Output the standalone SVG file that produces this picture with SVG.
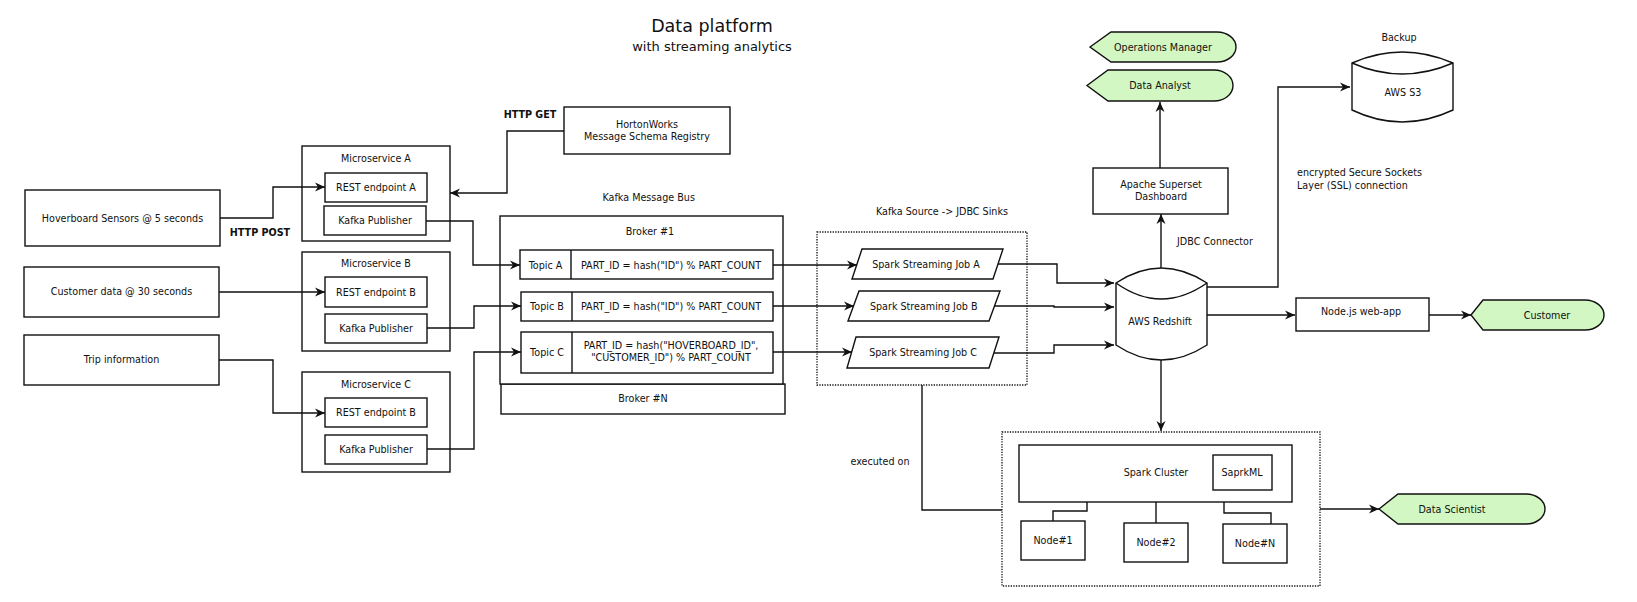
<svg xmlns="http://www.w3.org/2000/svg" width="1637" height="602" viewBox="0 0 1637 602">
<style>
text{font-family:"DejaVu Sans","Liberation Sans",sans-serif;font-size:9.6px;fill:#111;text-anchor:middle}
.l{text-anchor:start}
.b{font-weight:bold}
.box{fill:#fff;stroke:#111;stroke-width:1.4}
.dot{fill:none;stroke:#111;stroke-width:1.3;stroke-dasharray:1.3,1.3}
.act{fill:#d2f7c2;stroke:#111;stroke-width:1.4}
.c{fill:none;stroke:#111;stroke-width:1.4}
.a{marker-end:url(#arr)}
</style>
<defs>
<marker id="arr" markerUnits="userSpaceOnUse" markerWidth="12" markerHeight="10" refX="10" refY="4.5" orient="auto" overflow="visible">
<path d="M0,0 L10,4.5 L0,9 L3,4.5 Z" fill="#111"/>
</marker>
</defs>
<rect width="1637" height="602" fill="#fff"/>

<g id="title">
<text x="712" y="31.7" style="font-size:17.5px">Data platform</text>
<text x="712" y="51" style="font-size:13px">with streaming analytics</text>
</g>

<g id="hoverboard"><rect class="box" x="25" y="190" width="195" height="56"/><text x="122.5" y="221.5">Hoverboard Sensors @ 5 seconds</text></g>
<g id="customer-data"><rect class="box" x="24" y="267" width="195" height="50"/><text x="121.5" y="295">Customer data @ 30 seconds</text></g>
<g id="trip"><rect class="box" x="24" y="335" width="195" height="50"/><text x="121.5" y="363">Trip information</text></g>

<g id="microservice-a">
<rect class="box" x="302" y="146" width="148" height="95"/><text x="376" y="161.5">Microservice A</text>
<rect class="box" x="325" y="173" width="102" height="29"/><text x="376" y="191">REST endpoint A</text>
<rect class="box" x="324" y="206" width="102" height="29"/><text x="375" y="224">Kafka Publisher</text>
</g>
<g id="microservice-b">
<rect class="box" x="302" y="252" width="148" height="99"/><text x="376" y="266.5">Microservice B</text>
<rect class="box" x="325" y="277" width="102" height="30"/><text x="376" y="295.5">REST endpoint B</text>
<rect class="box" x="325" y="314" width="102" height="29"/><text x="376" y="331.5">Kafka Publisher</text>
</g>
<g id="microservice-c">
<rect class="box" x="302" y="372" width="148" height="100"/><text x="376" y="387.5">Microservice C</text>
<rect class="box" x="325" y="398" width="102" height="29"/><text x="376" y="416">REST endpoint B</text>
<rect class="box" x="325" y="435" width="102" height="29"/><text x="376" y="452.5">Kafka Publisher</text>
</g>

<g id="schema-registry"><rect class="box" x="564" y="107" width="166" height="47"/><text x="647" y="127.5">HortonWorks</text><text x="647" y="139.5">Message Schema Registry</text></g>

<g id="kafka-bus">
<text x="648.7" y="200.5">Kafka Message Bus</text>
<rect class="box" x="501" y="384" width="284" height="30"/><text x="643" y="401.5">Broker #N</text>
<rect class="box" x="500" y="216" width="283" height="168"/><text x="650" y="234.5">Broker #1</text>
</g>
<g id="topic-a"><rect class="box" x="520" y="250" width="253" height="29"/><line class="c" x1="571" y1="250" x2="571" y2="279"/><text x="545.5" y="268.5">Topic A</text><text x="671" y="268.5">PART_ID = hash("ID") % PART_COUNT</text></g>
<g id="topic-b"><rect class="box" x="521" y="292" width="252" height="29"/><line class="c" x1="572" y1="292" x2="572" y2="321"/><text x="547" y="309.5">Topic B</text><text x="671" y="309.5">PART_ID = hash("ID") % PART_COUNT</text></g>
<g id="topic-c"><rect class="box" x="521" y="332" width="252" height="41"/><line class="c" x1="572" y1="332" x2="572" y2="373"/><text x="547" y="355.5">Topic C</text><text x="671" y="348.5">PART_ID = hash("HOVERBOARD_ID",</text><text x="671" y="360.5"> "CUSTOMER_ID") % PART_COUNT</text></g>

<g id="streaming-jobs">
<text x="942" y="214.5">Kafka Source -&gt; JDBC Sinks</text>
<rect class="dot" x="817" y="232" width="210" height="153"/>
</g>
<g id="job-a"><path class="box" d="M862,249 L1003,249 L993,279 L852,279 Z"/><text x="926" y="267.5">Spark Streaming Job A</text></g>
<g id="job-b"><path class="box" d="M859,291 L1000,291 L989,321 L848,321 Z"/><text x="923.7" y="309.5">Spark Streaming Job B</text></g>
<g id="job-c"><path class="box" d="M856,337 L999,337 L989,368 L847,368 Z"/><text x="923" y="355.5">Spark Streaming Job C</text></g>

<g id="redshift">
<path class="box" d="M1116,283 Q1161,253 1207,283 L1207,345 Q1161,375 1116,345 Z"/>
<path class="c" d="M1116,283 Q1161,315 1207,283"/>
<text x="1160" y="324.5">AWS Redshift</text>
</g>
<g id="superset"><rect class="box" x="1093" y="168" width="135" height="46"/><text x="1161" y="187.5">Apache Superset</text><text x="1161" y="199.5">Dashboard</text></g>
<g id="ops-manager"><path class="act" d="M1090,47 L1111,32 L1217,32 A19,15 0 0 1 1217,62 L1111,62 Z"/><text x="1163" y="50.5">Operations Manager</text></g>
<g id="data-analyst"><path class="act" d="M1087,85.5 L1108,70 L1214,70 A19,15.5 0 0 1 1214,101 L1108,101 Z"/><text x="1160" y="88.5">Data Analyst</text></g>
<g id="s3">
<text x="1399" y="40.5">Backup</text>
<path class="box" d="M1352,63 Q1402,41 1453,63 L1453,110 Q1402,134 1352,110 Z"/>
<path class="c" d="M1352,63 Q1402,85 1453,63"/>
<text x="1403" y="95.5">AWS S3</text>
</g>
<g id="ssl-label"><text class="l" x="1297" y="175.5">encrypted Secure Sockets</text><text class="l" x="1297" y="188.5">Layer (SSL) connection</text></g>
<g id="nodejs"><rect class="box" x="1296" y="298" width="133" height="33"/><text x="1361" y="314.5">Node.js web-app</text></g>
<g id="customer"><path class="act" d="M1471,315 L1483,300 L1585,300 A19,15 0 0 1 1585,330 L1483,330 Z"/><text x="1547" y="318.5">Customer</text></g>

<g id="spark-cluster">
<rect class="dot" x="1002" y="432" width="318" height="154"/>
<rect class="box" x="1019" y="445" width="273" height="57"/><text x="1156" y="475.5">Spark Cluster</text>
<rect class="box" x="1213" y="455" width="59" height="35"/><text x="1242" y="475.5">SaprkML</text>
</g>
<g id="node-1"><rect class="box" x="1021" y="521" width="64" height="39"/><text x="1053" y="543.5">Node#1</text></g>
<g id="node-2"><rect class="box" x="1124" y="523" width="64" height="39"/><text x="1156" y="545.5">Node#2</text></g>
<g id="node-n"><rect class="box" x="1223" y="524" width="64" height="39"/><text x="1255" y="546.5">Node#N</text></g>
<g id="data-scientist"><path class="act" d="M1379,509 L1398,494 L1526,494 A19,15 0 0 1 1526,524 L1398,524 Z"/><text x="1452" y="512.5">Data Scientist</text></g>

<g id="connectors">
<polyline class="c a" points="220,218 273,218 273,187 325,187"/>
<polyline class="c a" points="219,292 325,292"/>
<polyline class="c a" points="219,360 273,360 273,413 325,413"/>
<polyline class="c a" points="564,131 507,131 507,193 450,193"/>
<polyline class="c a" points="426,221 473,221 473,265 520,265"/>
<polyline class="c a" points="427,328 474,328 474,306 521,306"/>
<polyline class="c a" points="427,449 474,449 474,352 521,352"/>
<polyline class="c a" points="773,265 857,265"/>
<polyline class="c a" points="773,306 854,306"/>
<polyline class="c a" points="773,352 852,352"/>
<polyline class="c a" points="998,264 1057,264 1057,283 1114,283"/>
<polyline class="c a" points="994,306 1054,306 1054,307 1114,307"/>
<polyline class="c a" points="994,353 1054,353 1054,345 1114,345"/>
<polyline class="c a" points="1161,268 1161,214"/>
<polyline class="c a" points="1160,168 1160,102"/>
<polyline class="c a" points="1207,287 1278,287 1278,87 1350,87"/>
<polyline class="c a" points="1207,315 1295,315"/>
<polyline class="c a" points="1429,315 1471,315"/>
<polyline class="c a" points="1161,360 1161,431"/>
<polyline class="c a" points="1320,509 1379,509"/>
<polyline class="c" points="922,385 922,510 1002,510"/>
<polyline class="c" points="1087,502 1087,511 1053,511 1053,521"/>
<polyline class="c" points="1156,502 1156,523"/>
<polyline class="c" points="1224,502 1224,513 1271,513 1271,524"/>
<text class="b" x="260" y="235.5">HTTP POST</text>
<text class="b" x="530" y="117.5">HTTP GET</text>
<text class="l" x="1177" y="244.5">JDBC Connector</text>
<text x="880" y="464.5">executed on</text>
</g>
</svg>
